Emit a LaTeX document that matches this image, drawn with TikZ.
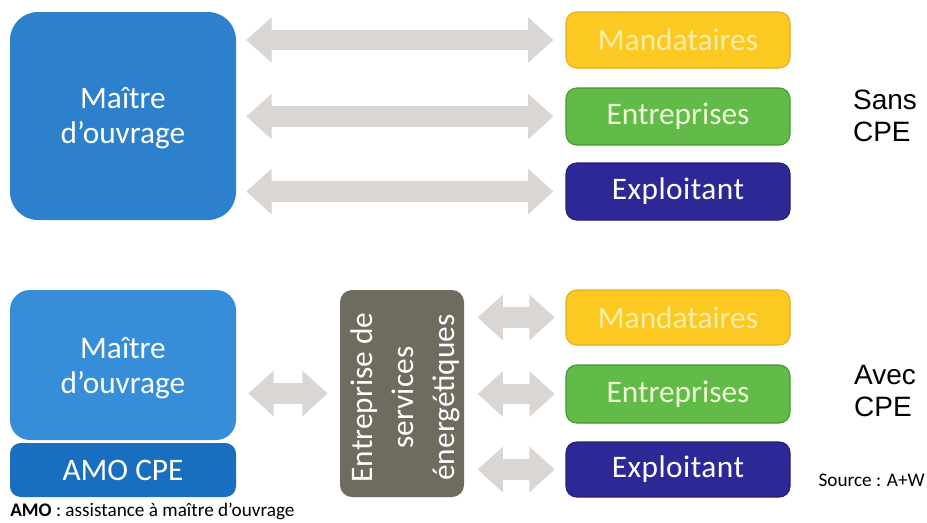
\documentclass[tikz,border=0pt]{standalone}
\usepackage{fontspec}
\setmainfont{Carlito}
\newfontfamily\arialfont{Liberation Sans}
\newfontfamily\spacedfont[LetterSpace=1.5]{Carlito}
\usetikzlibrary{arrows.meta}
\definecolor{moablue}{RGB}{44,128,204}
\definecolor{moablueB}{RGB}{54,142,216}
\definecolor{amoblue}{RGB}{26,110,192}
\definecolor{mandfill}{RGB}{251,201,34}
\definecolor{mandline}{RGB}{232,172,24}
\definecolor{mandtext}{RGB}{255,238,170}
\definecolor{entrfill}{RGB}{98,186,72}
\definecolor{entrline}{RGB}{72,150,52}
\definecolor{entrtext}{RGB}{238,250,215}
\definecolor{explfill}{RGB}{44,40,150}
\definecolor{eseFill}{RGB}{110,107,95}
\definecolor{linkgray}{RGB}{218,214,212}
\begin{document}
\begin{tikzpicture}[x=0.75pt,y=-0.75pt,
  box/.style={rounded corners=#1, inner sep=0pt, text=white,
    font=\fontsize{23.5}{26}\selectfont, align=center},
  box/.default=8pt,
  mandbox/.style={box, fill=mandfill, draw=mandline, line width=0.8pt, text=mandtext},
  entrbox/.style={box, fill=entrfill, draw=entrline, line width=0.8pt, text=entrtext},
  explbox/.style={box, fill=explfill, draw=explfill!80!black, line width=0.8pt,
    font=\spacedfont\fontsize{23.5}{26}\selectfont},
  link/.style={draw=linkgray, line width=15.5pt,
    {Triangle[length=19pt,width=33pt]}-{Triangle[length=19pt,width=33pt]}},
  sidelabel/.style={font=\arialfont\fontsize{21}{24}\selectfont, align=left},
  small/.style={font=\fontsize{14.4}{16}\selectfont}
]
\useasboundingbox (0,0) rectangle (927,522);

% ---- upper scheme: without CPE ----
\node[box=21pt, fill=moablue, minimum width=226*0.75pt, minimum height=208*0.75pt]
  (moa1) at (123,116) {};
\node[box, align=center] (moa1text) at (123,118) {Maître\\d’ouvrage};
\node[mandbox, minimum width=224*0.75pt, minimum height=56*0.75pt]
  (mand1) at (678,40) {Mandataires};
\node[entrbox, minimum width=224*0.75pt, minimum height=57*0.75pt]
  (entr1) at (678,116.5) {Entreprises};
\node[explbox, minimum width=224*0.75pt, minimum height=57*0.75pt]
  (expl1) at (678,191.5) {Exploitant};
\node[sidelabel] (sans) at (885,116) {Sans\\CPE};

\path[link, shorten <=7.5pt, shorten >=9pt] (moa1.east |- mand1) -- (mand1.west);
\path[link, shorten <=7.5pt, shorten >=9pt] (moa1.east |- entr1) -- (entr1.west);
\path[link, shorten <=7.5pt, shorten >=9pt] (moa1.east |- expl1) -- (expl1.west);

% ---- lower scheme: with CPE ----
\node[box=15pt, fill=moablueB, minimum width=226*0.75pt, minimum height=150*0.75pt]
  (moa2) at (123,365) {};
\node[box, align=center] (moa2text) at (123,368) {Maître\\d’ouvrage};
\node[box=8pt, fill=amoblue, minimum width=226*0.75pt, minimum height=54*0.75pt]
  (amo) at (123,470) {AMO CPE};
\node[box=9pt, fill=eseFill, minimum width=124*0.75pt, minimum height=207*0.75pt]
  (ese) at (402,393.5) {};
\node[rotate=90, text=white, align=center, font=\fontsize{23.5}{31}\selectfont]
  (esetext) at ([xshift=2.5pt,yshift=-3pt]ese.center) {Entreprise de\\services\\énergétiques};
\node[mandbox, minimum width=224*0.75pt, minimum height=55*0.75pt]
  (mand2) at (678,317.5) {Mandataires};
\node[entrbox, minimum width=224*0.75pt, minimum height=58*0.75pt]
  (entr2) at (678,394) {Entreprises};
\node[explbox, minimum width=224*0.75pt, minimum height=55*0.75pt]
  (expl2) at (678,469.5) {Exploitant};
\node[sidelabel] (avec) at (885,391) {Avec\\CPE};

\path[link, shorten <=9pt, shorten >=9pt] (moa2.east |- ese.center) -- (ese.west);
\path[link, shorten <=10pt, shorten >=8pt] (ese.east |- mand2) -- (mand2.west);
\path[link, shorten <=10pt, shorten >=8pt] (ese.east |- entr2) -- (entr2.west);
\path[link, shorten <=10pt, shorten >=8pt] (ese.east |- expl2) -- (expl2.west);

% ---- notes ----
\node[small, anchor=east, inner sep=0pt] (source) at (925,480) {Source : A+W};
\node[small, anchor=west, inner sep=0pt] (amonote) at (10,511)
  {\textbf{AMO} : assistance à maître d’ouvrage};
\end{tikzpicture}
\end{document}
